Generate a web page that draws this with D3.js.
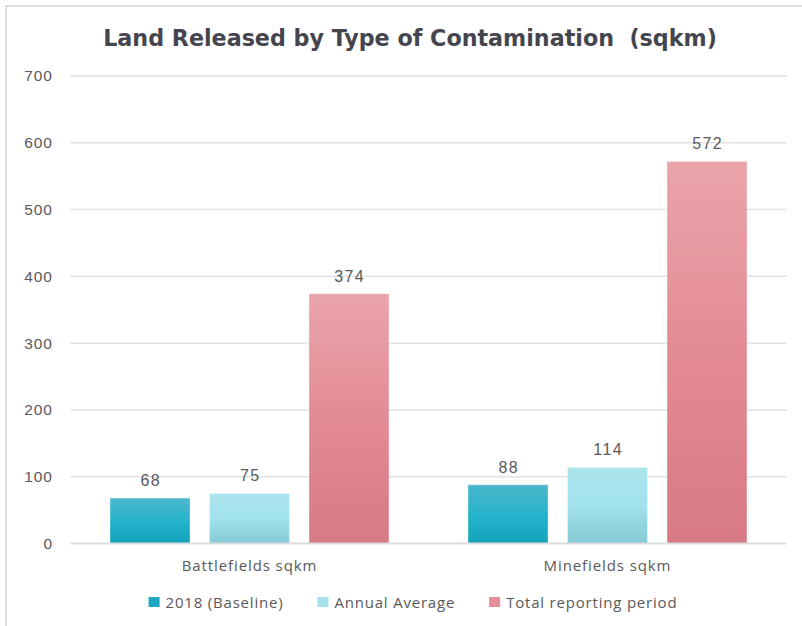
<!DOCTYPE html>
<html>
<head>
<meta charset="utf-8">
<script src="https://cdn.jsdelivr.net/npm/d3@7"></script>
<style>
  html, body { margin: 0; padding: 0; background: #fff; }
  svg { display: block; }
</style>
</head>
<body>
<div id="chart"></div>
<script>
// Data
const categories = ["Battlefields sqkm", "Minefields sqkm"];
const seriesNames = ["2018 (Baseline)", "Annual Average", "Total reporting period"];
const values = {
  "2018 (Baseline)":        [68, 88],
  "Annual Average":         [75, 114],
  "Total reporting period": [374, 572]
};
const yTicks = [0, 100, 200, 300, 400, 500, 600, 700];
const chartTitle = "Land Released by Type of Contamination  (sqkm)";

// Constants
const width  = 802,
      height = 626;
const plot = { left: 70.5, right: 786.5, top: 76, bottom: 543.5 };
const textColor  = "#595959";
const gridColor  = "#e1e1e5";
const numFont    = "'Liberation Sans', Arial, sans-serif";
const labelFont  = "'Open Sans', 'Noto Sans', sans-serif";

// gradient stops, one per series (top -> bottom)
const gradients = [
  ["#4cb7cd", "#26b3cc", "#14a1ba"],
  ["#ace5ee", "#a2e2eb", "#85cad5"],
  ["#eaa4aa", "#e38b94", "#d77a83"]
];
const legendColors = ["#1aa8c2", "#a6e2eb", "#e58f98"];

const svg = d3.select("#chart").append("svg")
  .attr("width", width)
  .attr("height", height);

// border (right & bottom edges fall outside the picture)
svg.append("rect")
  .attr("x", 6).attr("y", 6)
  .attr("width", width + 20).attr("height", height + 20)
  .attr("fill", "#fff")
  .attr("stroke", "#dedee2")
  .attr("stroke-width", 2);

// Scales
const y = d3.scaleLinear([0, 700], [plot.bottom, plot.top]);
const x0 = d3.scaleBand(categories, [plot.left, plot.right]);
const x1 = d3.scaleBand(seriesNames, [39.5, x0.bandwidth() - 39.5])
  .paddingInner(0.196);

// Gradients
const defs = svg.append("defs");
gradients.forEach((stops, i) => {
  const g = defs.append("linearGradient")
    .attr("id", `grad-${i}`)
    .attr("x1", "0%").attr("y1", "0%")
    .attr("x2", "0%").attr("y2", "100%");
  stops.forEach((c, k) => {
    g.append("stop")
      .attr("offset", `${k * 50}%`)
      .attr("stop-color", c);
  });
});

// Gridlines
svg.append("g")
  .selectAll("line")
  .data(yTicks.filter(t => t > 0))
  .join("line")
    .attr("x1", plot.left)
    .attr("x2", plot.right)
    .attr("y1", d => y(d))
    .attr("y2", d => y(d))
    .attr("stroke", gridColor)
    .attr("stroke-width", 1.5);

// Y axis labels
const yAxis = d3.axisLeft(y).tickValues(yTicks).tickSize(0).tickPadding(0);
svg.append("g")
  .attr("transform", "translate(53,0)")
  .call(yAxis)
  .call(g => g.select(".domain").remove())
  .call(g => g.selectAll("text")
    .attr("fill", textColor)
    .style("font-family", numFont)
    .style("font-size", "15.5px")
    .style("letter-spacing", "1px"));

// Bars
const groups = svg.append("g")
  .selectAll("g")
  .data(categories)
  .join("g")
    .attr("transform", d => `translate(${x0(d)},0)`);

groups.selectAll("rect")
  .data((cat, ci) => seriesNames.map((s, si) => ({ s, si, v: values[s][ci] })))
  .join("rect")
    .attr("x", d => x1(d.s))
    .attr("y", d => y(d.v))
    .attr("width", x1.bandwidth())
    .attr("height", d => y(0) - y(d.v))
    .attr("fill", d => `url(#grad-${d.si})`)
    .attr("stroke", "rgba(255,255,255,0.35)")
    .attr("stroke-width", 1);

// Data labels
groups.selectAll("text")
  .data((cat, ci) => seriesNames.map((s, si) => ({ s, si, v: values[s][ci] })))
  .join("text")
    .attr("x", d => x1(d.s) + x1.bandwidth() / 2 + 0.7)
    .attr("y", d => y(d.v) - 12)
    .attr("text-anchor", "middle")
    .attr("fill", textColor)
    .style("font-family", numFont)
    .style("font-size", "16px")
    .style("letter-spacing", "1.4px")
    .text(d => d.v);

// Zero axis line
svg.append("line")
  .attr("x1", plot.left).attr("x2", plot.right)
  .attr("y1", y(0)).attr("y2", y(0))
  .attr("stroke", "#dcdce0")
  .attr("stroke-width", 2);

// Category labels
svg.append("g")
  .selectAll("text")
  .data(categories)
  .join("text")
    .attr("x", d => x0(d) + x0.bandwidth() / 2)
    .attr("y", 571)
    .attr("text-anchor", "middle")
    .attr("fill", textColor)
    .style("font-family", labelFont)
    .style("font-size", "15px")
    .style("letter-spacing", "0.9px")
    .text(d => d);

// Title (fit to the reference width)
const title = svg.append("text")
  .attr("x", 410)
  .attr("y", 46)
  .attr("text-anchor", "middle")
  .attr("fill", "#45454f")
  .style("font-family", "'DejaVu Sans', sans-serif")
  .style("font-weight", "bold")
  .style("font-size", "22px")
  .style("white-space", "pre")
  .text(chartTitle);
const tw = title.node().getComputedTextLength();
title.style("font-size", `${22 * 614 / tw}px`);

// Legend
const legend = svg.append("g");
let lx = 0;
seriesNames.forEach((s, i) => {
  const item = legend.append("g").attr("transform", `translate(${lx},0)`);
  item.append("rect")
    .attr("x", 0).attr("y", 597)
    .attr("width", 11).attr("height", 10)
    .attr("fill", legendColors[i]);
  const t = item.append("text")
    .attr("x", 17).attr("y", 608)
    .attr("fill", textColor)
    .style("font-family", labelFont)
    .style("font-size", "15px")
    .style("letter-spacing", "0.8px")
    .text(s);
  lx += 17 + t.node().getComputedTextLength() + 34;
});
const legendW = lx - 34;
legend.attr("transform", `translate(${413 - legendW / 2},0)`);
</script>
</body>
</html>
